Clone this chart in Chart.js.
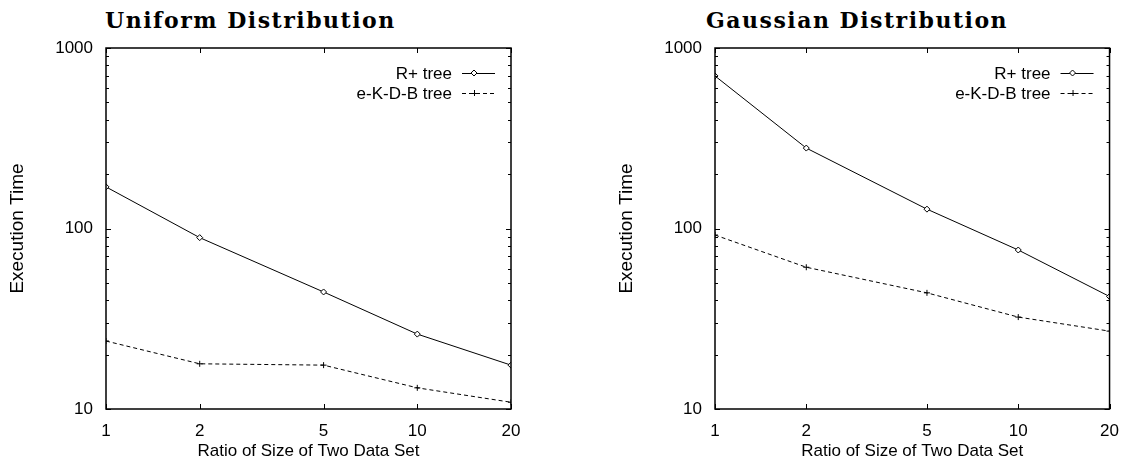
<!DOCTYPE html>
<html>
<head>
    <title>Execution Time</title>
    <script src="https://cdn.jsdelivr.net/npm/chart.js"></script>
    <style>
        body {
            margin: 0;
            padding: 0;
            background: #ffffff;
            width: 1131px;
            height: 462px;
            position: relative;
            overflow: hidden;
        }
        .panel {
            position: absolute;
            top: 0;
            height: 462px;
        }
        .title {
            position: absolute;
            top: 9px;
            font-family: 'DejaVu Serif', 'Liberation Serif', serif;
            font-weight: bold;
            font-size: 22px;
            letter-spacing: 1.5px;
            line-height: 22px;
            color: #000;
            white-space: nowrap;
        }
    </style>
</head>
<body>
    <div class="title" style="left:105px">Uniform Distribution</div>
    <div class="title" style="left:706px">Gaussian Distribution</div>
    <div class="panel" style="left:0;width:560px"><canvas id="chartUniform" width="560" height="462"></canvas></div>
    <div class="panel" style="left:560px;width:571px"><canvas id="chartGauss" width="571" height="462"></canvas></div>

    <script>
        // values
        const ratios = [1, 2, 5, 10, 20];
        const seriesNames = ['R+ tree', 'e-K-D-B tree'];
        const uniformRPlus = [170, 89, 44.5, 26, 17.5];
        const uniformEKDB = [23.8, 17.8, 17.5, 13.1, 10.9];
        const gaussRPlus = [700, 279, 128, 76, 42];
        const gaussEKDB = [92, 61, 44, 32.3, 27];

        const xTicks = [1, 2, 5, 10, 20];
        const yTicks = [10, 100, 1000];
        const yMinorTicks = [20, 30, 40, 50, 60, 70, 80, 90, 200, 300, 400, 500, 600, 700, 800, 900];

        const FONT = "'Liberation Sans', Arial, sans-serif";

        // gnuplot style frame with inward ticks on all four sides
        const frameTicks = {
            id: 'frameTicks',
            afterDatasetsDraw(chart) {
                const { ctx, chartArea: a, scales: { x, y } } = chart;
                ctx.save();
                ctx.strokeStyle = '#000';
                ctx.lineWidth = 1;
                ctx.beginPath();
                xTicks.forEach(v => {
                    const px = Math.round(x.getPixelForValue(v)) + 0.5;
                    ctx.moveTo(px, a.bottom); ctx.lineTo(px, a.bottom - 5);
                    ctx.moveTo(px, a.top); ctx.lineTo(px, a.top + 5);
                });
                const yt = (v, len) => {
                    const py = Math.round(y.getPixelForValue(v)) + 0.5;
                    ctx.moveTo(a.left, py); ctx.lineTo(a.left + len, py);
                    ctx.moveTo(a.right, py); ctx.lineTo(a.right - len, py);
                };
                yTicks.forEach(v => yt(v, 5));
                yMinorTicks.forEach(v => yt(v, 3));
                ctx.stroke();
                ctx.lineWidth = 1.5;
                ctx.strokeRect(a.left, a.top, a.right - a.left, a.bottom - a.top);
                ctx.restore();
            }
        };

        // legend in the top right corner: text, then line sample with marker
        const cornerLegend = {
            id: 'cornerLegend',
            afterDraw(chart) {
                const { ctx, chartArea: a } = chart;
                ctx.save();
                ctx.font = '17px ' + FONT;
                ctx.fillStyle = '#000';
                ctx.strokeStyle = '#000';
                ctx.textAlign = 'right';
                ctx.textBaseline = 'middle';
                chart.data.datasets.forEach((ds, i) => {
                    const yy = a.top + 25 + i * 20;
                    ctx.fillText(ds.label, a.right - 59, yy + 1);
                    const x0 = a.right - 49, x1 = a.right - 16;
                    ctx.lineWidth = 1;
                    ctx.setLineDash(ds.borderDash || []);
                    ctx.beginPath();
                    ctx.moveTo(x0, yy + 0.5); ctx.lineTo(x1, yy + 0.5);
                    ctx.stroke();
                    ctx.setLineDash([]);
                    const mx = x0 + 12;
                    ctx.beginPath();
                    if (ds.pointStyle === 'rectRot') {
                        ctx.moveTo(mx - 3, yy); ctx.lineTo(mx, yy - 3);
                        ctx.lineTo(mx + 3, yy); ctx.lineTo(mx, yy + 3);
                        ctx.closePath();
                        ctx.fillStyle = '#fff';
                        ctx.fill();
                        ctx.stroke();
                        ctx.fillStyle = '#000';
                    } else {
                        ctx.moveTo(mx - 3, yy + 0.5); ctx.lineTo(mx + 3, yy + 0.5);
                        ctx.moveTo(mx + 0.5, yy - 3); ctx.lineTo(mx + 0.5, yy + 3);
                        ctx.stroke();
                    }
                });
                ctx.restore();
            }
        };

        function toPoints(values) {
            return ratios.map((r, i) => ({ x: r, y: values[i] }));
        }

        function makeChart(id, rPlus, ekdb, yAxisWidth, yTitlePad, padRight) {
            const ctx = document.getElementById(id).getContext('2d');
            return new Chart(ctx, {
                type: 'line',
                data: {
                    datasets: [{
                        label: seriesNames[0],
                        data: toPoints(rPlus),
                        borderColor: '#000',
                        borderWidth: 1,
                        pointStyle: 'rectRot',
                        pointRadius: 3,
                        pointBackgroundColor: '#fff',
                        pointBorderColor: '#000',
                        pointBorderWidth: 1,
                        tension: 0,
                        fill: false
                    }, {
                        label: seriesNames[1],
                        data: toPoints(ekdb),
                        borderColor: '#000',
                        borderWidth: 1,
                        borderDash: [4, 3],
                        pointStyle: 'cross',
                        pointRadius: 3,
                        pointBorderColor: '#000',
                        pointBorderWidth: 1,
                        tension: 0,
                        fill: false
                    }]
                },
                options: {
                    responsive: false,
                    animation: false,
                    layout: { padding: { top: 48, right: padRight, left: 0, bottom: 0 } },
                    plugins: {
                        legend: { display: false },
                        tooltip: { enabled: false }
                    },
                    scales: {
                        x: {
                            type: 'logarithmic',
                            min: 1,
                            max: 20,
                            grid: { display: false, drawTicks: false },
                            border: { display: false },
                            afterBuildTicks: s => { s.ticks = xTicks.map(v => ({ value: v })); },
                            afterFit: s => { s.height = 53; },
                            ticks: {
                                color: '#000',
                                padding: 12,
                                maxRotation: 0,
                                autoSkip: false,
                                font: { family: FONT, size: 17 },
                                callback: v => String(v)
                            },
                            title: {
                                display: true,
                                text: 'Ratio of Size of Two Data Set',
                                color: '#000',
                                font: { family: FONT, size: 17 },
                                padding: { top: 0, bottom: 0 }
                            }
                        },
                        y: {
                            type: 'logarithmic',
                            min: 10,
                            max: 1000,
                            grid: { display: false, drawTicks: false },
                            border: { display: false },
                            afterBuildTicks: s => { s.ticks = yTicks.map(v => ({ value: v })); },
                            afterFit: s => { s.width = yAxisWidth; },
                            ticks: {
                                color: '#000',
                                padding: 13,
                                autoSkip: false,
                                font: { family: FONT, size: 17 },
                                callback: v => String(v)
                            },
                            title: {
                                display: true,
                                text: 'Execution Time',
                                color: '#000',
                                font: { family: FONT, size: 19 },
                                padding: { top: yTitlePad, bottom: 0 }
                            }
                        }
                    }
                },
                plugins: [frameTicks, cornerLegend]
            });
        }

        makeChart('chartUniform', uniformRPlus, uniformEKDB, 106, 6, 49);
        makeChart('chartGauss', gaussRPlus, gaussEKDB, 155, 55, 13);
    </script>
</body>
</html>
